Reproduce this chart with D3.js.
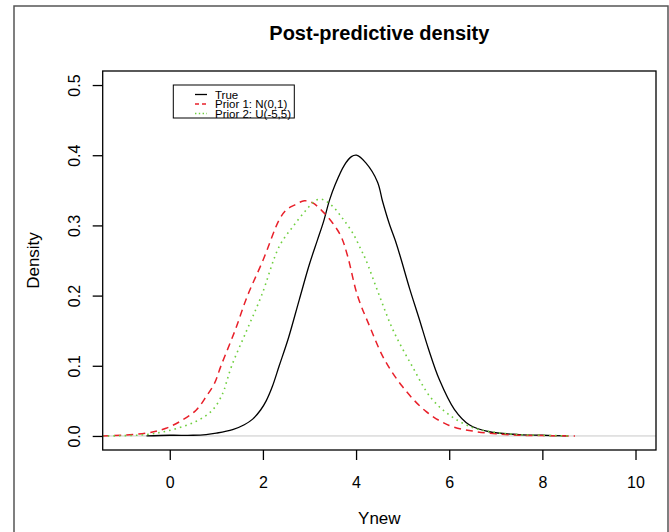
<!DOCTYPE html>
<html>
<head>
<meta charset="utf-8">
<script src="https://cdn.jsdelivr.net/npm/d3@7"></script>
<style>
  body { margin: 0; background: #fff; }
  text { font-family: "Liberation Sans", Arial, Helvetica, sans-serif; fill: #000; }
</style>
</head>
<body>
<svg id="chart"></svg>
<script>
// values
var trueX = [-0.5, 0, 0.5, 0.78, 1, 1.35, 1.6, 1.78, 1.95, 2.07, 2.2, 2.35, 2.55, 2.78, 3.0, 3.17, 3.3, 3.43, 3.55, 3.75, 3.9, 4.01, 4.21, 4.46, 4.57, 4.71, 4.86, 4.97, 5.15, 5.36, 5.55, 5.79, 6.11, 6.43, 6.86, 7.5, 8, 8.55];
var trueY = [0, 0.001, 0.001, 0.002, 0.004, 0.009, 0.016, 0.024, 0.037, 0.05, 0.07, 0.1, 0.14, 0.194, 0.245, 0.279, 0.305, 0.336, 0.358, 0.386, 0.398, 0.40, 0.389, 0.362, 0.334, 0.303, 0.275, 0.251, 0.21, 0.166, 0.125, 0.08, 0.038, 0.016, 0.006, 0.002, 0.001, 0];

var prior1X = [-1.45, -0.51, -0.08, 0.28, 0.57, 0.78, 0.96, 1.1, 1.4, 1.67, 2.0, 2.35, 2.5, 2.68, 2.89, 3.07, 3.28, 3.5, 3.68, 3.82, 4.03, 4.3, 4.6, 5.0, 5.5, 6.0, 6.5, 7.0, 7.5, 8.0, 8.7];
var prior1Y = [0, 0.004, 0.011, 0.023, 0.037, 0.056, 0.075, 0.1, 0.15, 0.2, 0.25, 0.308, 0.322, 0.329, 0.335, 0.332, 0.320, 0.303, 0.284, 0.256, 0.2, 0.155, 0.11, 0.07, 0.035, 0.015, 0.007, 0.003, 0.001, 0.0005, 0];

var prior2X = [-1.45, -0.51, 0.06, 0.57, 0.92, 1.14, 1.21, 1.33, 1.65, 1.97, 2.35, 2.64, 2.93, 3.14, 3.28, 3.5, 3.71, 3.93, 4.11, 4.21, 4.5, 4.8, 5.2, 5.6, 6.0, 6.5, 7.0, 7.5, 8.0, 8.6];
var prior2Y = [0, 0.002, 0.009, 0.021, 0.037, 0.061, 0.075, 0.1, 0.15, 0.2, 0.27, 0.298, 0.322, 0.336, 0.337, 0.327, 0.31, 0.289, 0.265, 0.251, 0.2, 0.15, 0.1, 0.055, 0.03, 0.012, 0.005, 0.002, 0.001, 0];

var xTicks = [0, 2, 4, 6, 8, 10];
var yTicks = [0, 0.1, 0.2, 0.3, 0.4, 0.5];
var legendLabels = ["True", "Prior 1: N(0,1)", "Prior 2: U(-5,5)"];

var width = 669, height = 532;
var pLeft = 102.7, pRight = 656, pTop = 71, pBottom = 450;

var svg = d3.select("#chart").attr("width", width).attr("height", height);
svg.append("rect").attr("width", width).attr("height", height).attr("fill", "#fff");

// outer frame
svg.append("rect").attr("x", 14).attr("y", 6).attr("width", 654).attr("height", 540)
	.attr("fill", "none").attr("stroke", "#555").attr("stroke-width", 1.5);

var x = d3.scaleLinear().domain([-1.44, 10.44]).range([pLeft, pRight]);
var y = d3.scaleLinear().domain([-0.02, 0.52]).range([pBottom, pTop]);

svg.append("defs").append("clipPath").attr("id", "plotclip")
	.append("rect").attr("x", pLeft).attr("y", pTop).attr("width", pRight - pLeft).attr("height", pBottom - pTop);

// horizontal line at zero
svg.append("line").attr("x1", pLeft).attr("x2", pRight).attr("y1", y(0)).attr("y2", y(0))
	.attr("stroke", "#c8c8c8").attr("stroke-width", 1);

var line = d3.line().x(function(d) { return x(d[0]); }).y(function(d) { return y(d[1]); })
	.curve(d3.curveCatmullRom.alpha(0.5));

var series = [
	{ xs: trueX, ys: trueY, color: "#000", dash: null, w: 1.3 },
	{ xs: prior1X, ys: prior1Y, color: "#e8202a", dash: "7,5", w: 1.5 },
	{ xs: prior2X, ys: prior2Y, color: "#6fcf3f", dash: "1.6,4", w: 1.6 }
];

var plot = svg.append("g").attr("clip-path", "url(#plotclip)");
series.forEach(function(s) {
	var pts = s.xs.map(function(v, i) { return [v, s.ys[i]]; });
	plot.append("path").datum(pts).attr("d", line)
		.attr("fill", "none").attr("stroke", s.color).attr("stroke-width", s.w)
		.attr("stroke-dasharray", s.dash);
});

// box
svg.append("rect").attr("x", pLeft).attr("y", pTop).attr("width", pRight - pLeft).attr("height", pBottom - pTop)
	.attr("fill", "none").attr("stroke", "#000").attr("stroke-width", 1.3);

// x axis
var xAxis = svg.append("g").attr("transform", "translate(0," + pBottom + ")")
	.call(d3.axisBottom(x).tickValues(xTicks).tickSize(10).tickFormat(d3.format("d")));
xAxis.select(".domain").remove();
xAxis.selectAll("line").attr("stroke", "#000").attr("stroke-width", 1.3);
xAxis.selectAll("text").attr("font-size", 16).attr("font-family", null).attr("dy", null).attr("y", 38);

// y axis
var yAxis = svg.append("g").attr("transform", "translate(" + pLeft + ",0)")
	.call(d3.axisLeft(y).tickValues(yTicks).tickSize(10).tickFormat(d3.format(".1f")));
yAxis.select(".domain").remove();
yAxis.selectAll("line").attr("stroke", "#000").attr("stroke-width", 1.3);
yAxis.selectAll("text").attr("font-size", 16).attr("font-family", null)
	.attr("x", null).attr("dy", null).attr("text-anchor", "middle")
	.attr("transform", "translate(-22.7,0) rotate(-90)");

// titles
svg.append("text").attr("x", (pLeft + pRight) / 2).attr("y", 40).attr("text-anchor", "middle")
	.attr("font-size", 20).attr("font-weight", "bold").text("Post-predictive density");
svg.append("text").attr("x", (pLeft + pRight) / 2).attr("y", 524).attr("text-anchor", "middle")
	.attr("font-size", 17).text("Ynew");
svg.append("text").attr("transform", "translate(39," + (pTop + pBottom) / 2 + ") rotate(-90)")
	.attr("text-anchor", "middle").attr("font-size", 17).text("Density");

// legend
var lg = svg.append("g");
lg.append("rect").attr("x", 173.3).attr("y", 85).attr("width", 121).attr("height", 33)
	.attr("fill", "#fff").attr("stroke", "#000").attr("stroke-width", 1);
legendLabels.forEach(function(lab, i) {
	var yy = 94.5 + i * 9.5;
	lg.append("line").attr("x1", 195).attr("x2", 207).attr("y1", yy).attr("y2", yy)
		.attr("stroke", series[i].color).attr("stroke-width", series[i].w)
		.attr("stroke-dasharray", i == 1 ? "4,3" : (i == 2 ? "1.4,2.4" : null));
	lg.append("text").attr("x", 215).attr("y", yy + 4).attr("font-size", 11.5).text(lab);
});
</script>
</body>
</html>
